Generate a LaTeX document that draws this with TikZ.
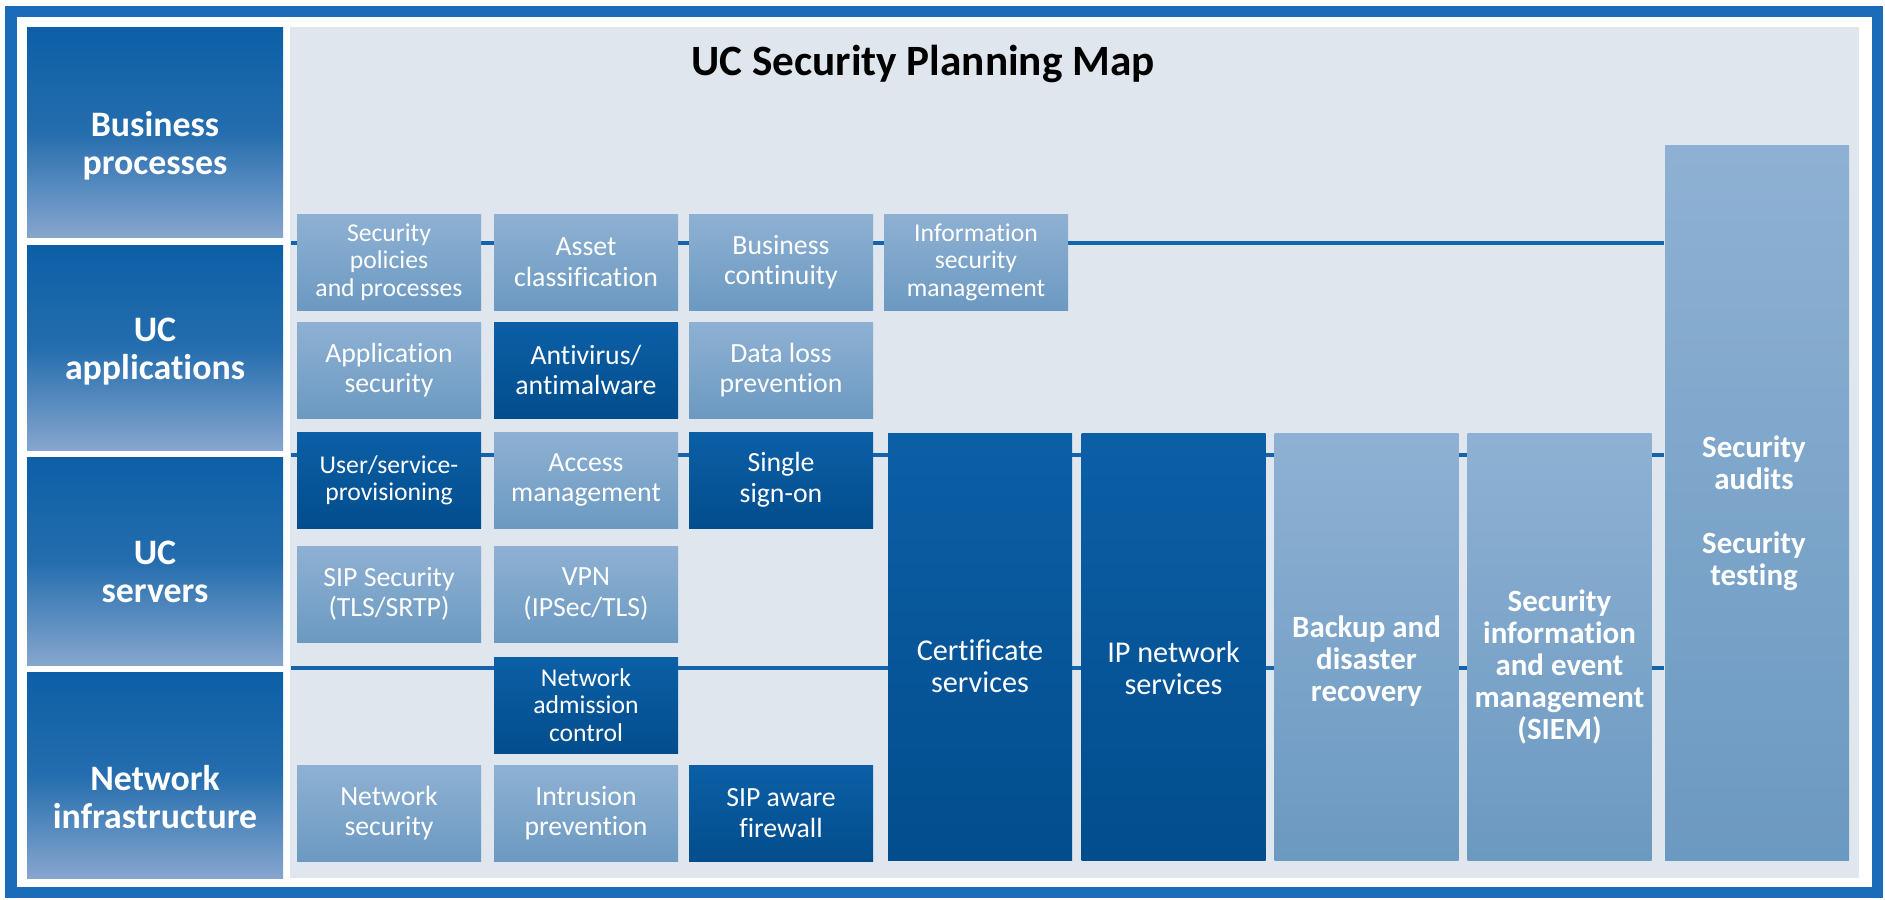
\documentclass[tikz,border=0pt]{standalone}
\usepackage{fontspec}
\setmainfont[Ligatures = NoCommon]{Carlito}
\usetikzlibrary{backgrounds}
\definecolor{frameblue}{HTML}{1A6BB8}
\definecolor{panelgrey}{HTML}{DFE6EE}
\definecolor{linkblue}{HTML}{1563AB}
\definecolor{darktop}{HTML}{0C5FA6}
\definecolor{darkbot}{HTML}{024D8D}
\definecolor{lighttop}{HTML}{8EB1D3}
\definecolor{lightbot}{HTML}{6C99C1}
\definecolor{sidebot}{HTML}{86A6CE}
\tikzset{box/.style = {rectangle, inner sep = 0, minimum width = 18.4mm, minimum height = 9.6mm, align = center, text = white, font = \fontsize{7.9}{8.7}\selectfont}}
\tikzset{lbox/.style = {box, top color = lighttop, bottom color = lightbot}}
\tikzset{dbox/.style = {box, top color = darktop, bottom color = darkbot}}
\tikzset{three/.style = {font = \fontsize{7.3}{7.8}\selectfont}}
\tikzset{side/.style = {rectangle, inner sep = 0, minimum width = 25.6mm, top color = darktop, bottom color = sidebot, middle color = darktop!80!sidebot}}
\tikzset{sidetext/.style = {align = center, text = white, font = \bfseries\fontsize{10.2}{10.8}\selectfont}}
\tikzset{tall/.style = {rectangle, inner sep = 0, minimum width = 18.4mm, minimum height = 42.7mm}}
\tikzset{talltext/.style = {align = center, text = white, font = \bfseries\fontsize{8.8}{9.1}\selectfont}}
\tikzset{link/.style = {linkblue, line width = 1.3pt}}

\begin{document}
\begin{tikzpicture}[x = 0.1mm, y = -0.1mm]
      \useasboundingbox (0, 0) rectangle (1885, 899);
      \draw [frameblue, line width = 3.3pt] (11, 11.5) rectangle (1877.5, 892.5);
      \node [font = \bfseries\fontsize{12.3}{14}\selectfont, anchor = base] (title) at (923, 75) {UC Security Planning Map};
      % left column
      \node [side, minimum height = 21mm] (bp) at (155, 132) {};
      \node [side, minimum height = 20.5mm] (uca) at (155, 347.5) {};
      \node [side, minimum height = 20.8mm] (ucs) at (155, 561) {};
      \node [side, minimum height = 20.6mm] (ni) at (155, 775) {};
      \node [sidetext] (bptxt) at (155, 146) {Business\\processes};
      \node [sidetext] (ucatxt) at (155, 352) {UC\\applications};
      \node [sidetext] (ucstxt) at (155, 572) {UC\\servers};
      \node [sidetext] (nitxt) at (155, 797) {Network\\infrastructure};
      % small boxes
      \node [lbox, three] (pol) at (389, 262) {Security\\policies\\and processes};
      \node [lbox] (asset) at (586, 262) {Asset\\classification};
      \node [lbox] (cont) at (781, 262) {Business\\continuity};
      \node [lbox, three] (ism) at (976, 262) {Information\\security\\management};
      \node [lbox] (appsec) at (389, 370) {Application\\security};
      \node [dbox] (av) at (586, 370) {Antivirus/\\antimalware};
      \node [lbox] (dlp) at (781, 370) {Data loss\\prevention};
      \node [dbox, three] (prov) at (389, 480) {User/service-\\provisioning};
      \node [lbox] (access) at (586, 480) {Access\\management};
      \node [dbox] (sso) at (781, 480) {Single\\sign-on};
      \node [lbox] (sipsec) at (389, 594) {SIP Security\\(TLS/SRTP)};
      \node [lbox] (vpn) at (586, 594) {VPN\\(IPSec/TLS)};
      \node [dbox, three] (nac) at (586, 705) {Network\\admission\\control};
      \node [lbox] (netsec) at (389, 813) {Network\\security};
      \node [lbox] (ips) at (586, 813) {Intrusion\\prevention};
      \node [dbox] (fw) at (781, 813) {SIP aware\\firewall};
      % tall boxes
      \node [tall, top color = darktop, bottom color = darkbot] (cert) at (980, 646.5) {};
      \node [tall, top color = darktop, bottom color = darkbot] (ipnet) at (1173.5, 646.5) {};
      \node [tall, top color = lighttop, bottom color = lightbot] (backup) at (1366.5, 646.5) {};
      \node [tall, top color = lighttop, bottom color = lightbot] (siem) at (1559.5, 646.5) {};
      \node [tall, top color = lighttop, bottom color = lightbot, minimum height = 71.5mm] (audit) at (1757, 502.5) {};
      \node [talltext, font = \fontsize{8.6}{9.1}\selectfont] (certtxt) at (980, 666) {Certificate\\services};
      \node [talltext, font = \fontsize{8.6}{9.1}\selectfont] (iptxt) at (1173.5, 668) {IP network\\services};
      \node [talltext] (backuptxt) at (1366.5, 661) {Backup and\\disaster\\recovery};
      \node [talltext] (siemtxt) at (1559.5, 667) {Security\\information\\and event\\management\\(SIEM)};
      \node [talltext] (audittxt) at (1754, 513) {Security\\audits\\[9.1pt]Security\\testing};
      \begin{scope}[on background layer]
        \fill [panelgrey] (290, 27) rectangle (1859, 878);
        \coordinate (l1) at (291, 243);
        \coordinate (l2) at (291, 455);
        \coordinate (l3) at (291, 668);
        \draw [link] (l1) -- (audit.west |- l1);
        \draw [link] (l2) -- (audit.west |- l2);
        \draw [link] (l3) -- (audit.west |- l3);
      \end{scope}
    \end{tikzpicture}
\end{document}
